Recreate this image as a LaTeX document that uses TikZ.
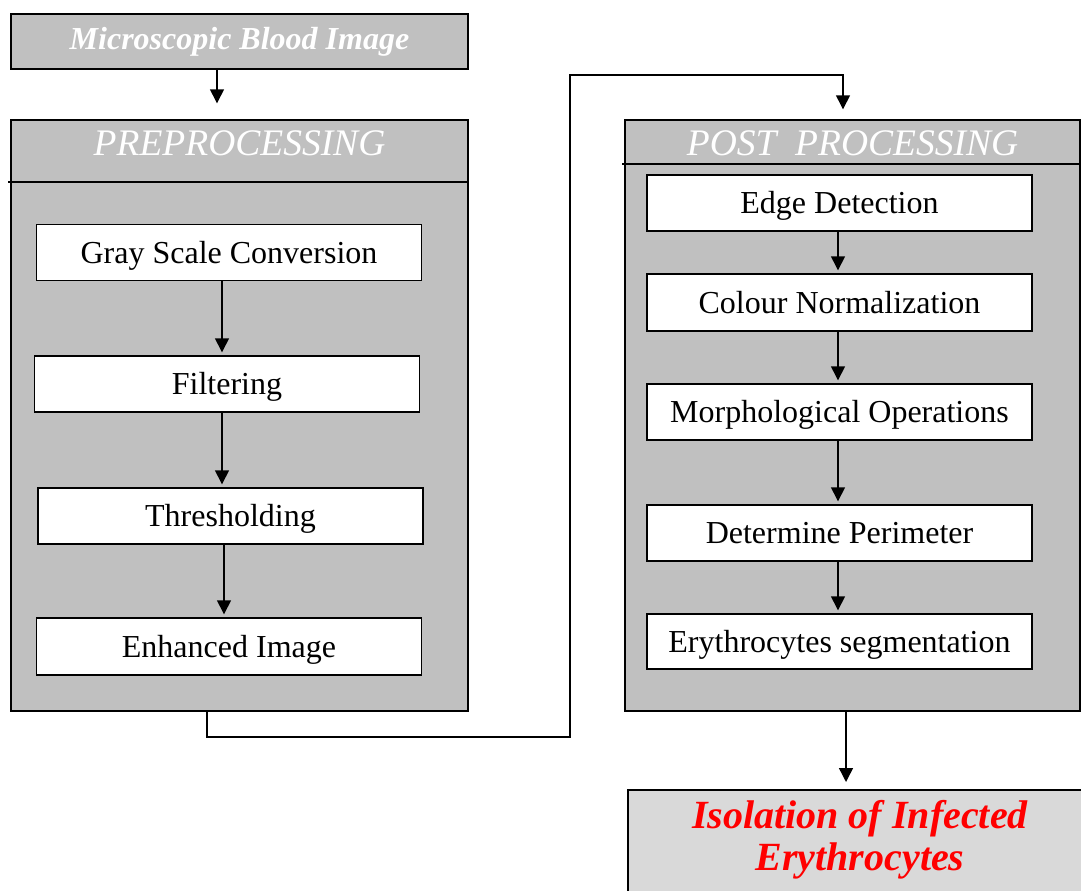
\documentclass[tikz,border=0pt]{standalone}
\usepackage{fontspec}
\setmainfont{Liberation Serif}
\usetikzlibrary{positioning,arrows.meta,calc}

\definecolor{panelgray}{HTML}{C0C0C0}
\definecolor{resultgray}{HTML}{D9D9D9}

\begin{document}
\begin{tikzpicture}[x=1pt,y=-1pt,line width=1.4pt,
    every node/.style={font=\fontsize{32}{36}\selectfont},
    panel/.style={draw,fill=panelgray,minimum height=591pt,inner sep=0pt},
    stepbox/.style={draw,fill=white,minimum width=385pt,minimum height=56pt,inner sep=0pt,text height=24pt,text depth=3pt},
    title/.style={text=white,font=\fontsize{37.5}{40}\selectfont\itshape},
    flow/.style={-{Triangle[length=14pt,width=14pt]}}]
    \useasboundingbox (0,0) rectangle (1081,891);
    % input image
    \node[draw,fill=panelgray,minimum width=457pt,minimum height=55pt,inner sep=0pt,text=white,font=\fontsize{32}{36}\selectfont\bfseries\itshape] (img) at (239.5,41.5) {Microscopic Blood Image};
    % preprocessing panel
    \node[panel,minimum width=457pt] (pre) at (239.5,415.5) {};
    \node[title] (pretitle) at (239.5,143) {PREPROCESSING};
    \draw (8,182) -- (pre.east |- 0,182);
    \node[stepbox] (gray) at (229,252.5) {Gray Scale Conversion};
    \node[stepbox] (filt) at (227,384) {Filtering};
    \node[stepbox] (thr) at (230.5,516) {Thresholding};
    \node[stepbox,minimum height=57pt] (enh) at (229,646.5) {Enhanced Image};
    % post processing panel
    \node[panel,minimum width=455pt] (post) at (852.5,415.5) {};
    \node[title] (posttitle) at (852.5,143) {POST\ \ PROCESSING};
    \draw (622,164) -- (post.east |- 0,164);
    \node[stepbox] (edge) at (839.5,203) {Edge Detection};
    \node[stepbox,minimum height=57pt] (col) at (839.5,302.5) {Colour Normalization};
    \node[stepbox] (morph) at (839.5,412) {Morphological Operations};
    \node[stepbox] (perim) at (839.5,533) {Determine Perimeter};
    \node[stepbox,minimum height=55pt] (seg) at (839.5,641.5) {Erythrocytes segmentation};
    % result
    \path[draw,fill=resultgray] (628,790) rectangle (1090,900);
    \node[text=red,align=center,font=\fontsize{40}{42}\selectfont\bfseries\itshape] (iso) at (860,840) {Isolation of Infected\\Erythrocytes};
    % connectors
    \draw[flow,shorten >=16pt] (img.south -| 217,0) -- (pre.north -| 217,0);
    \draw[flow,shorten >=3pt] (gray.south -| 222,0) -- (filt.north -| 222,0);
    \draw[flow,shorten >=3pt] (filt.south -| 222,0) -- (thr.north -| 222,0);
    \draw[flow,shorten >=3pt] (thr.south -| 224,0) -- (enh.north -| 224,0);
    \draw[flow,shorten >=10pt] (pre.south -| 207,0) -- (207,737) -- (570,737) -- (570,75) -- (843,75) -- (post.north -| 843,0);
    \draw[flow,shorten >=3pt] (edge.south -| 838,0) -- (col.north -| 838,0);
    \draw[flow,shorten >=3pt] (col.south -| 838,0) -- (morph.north -| 838,0);
    \draw[flow,shorten >=3pt] (morph.south -| 838,0) -- (perim.north -| 838,0);
    \draw[flow,shorten >=3pt] (perim.south -| 838,0) -- (seg.north -| 838,0);
    \draw[flow,shorten >=8pt] (post.south -| 846,0) -- (846,790);
\end{tikzpicture}
\end{document}
